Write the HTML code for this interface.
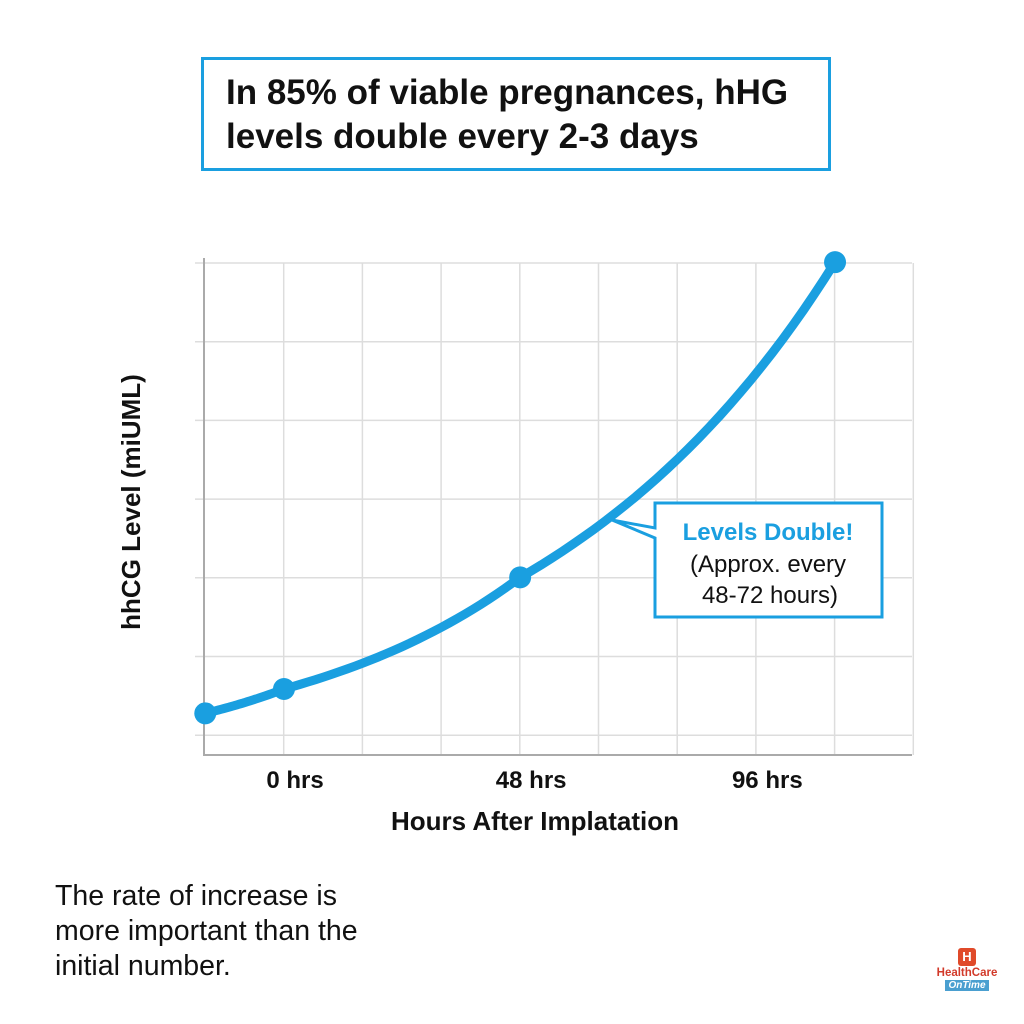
<!DOCTYPE html>
<html><head><meta charset="utf-8"><style>
body{margin:0;width:1024px;height:1024px;background:#fff;font-family:"Liberation Sans",sans-serif;overflow:hidden;position:relative}
.t{position:absolute}
</style></head><body>
<div class="t" style="left:201px;top:57px;width:624px;height:108px;border:3px solid #1a9fe0;"></div>
<div class="t" style="left:226px;top:71px;font-size:35px;font-weight:bold;color:#111;line-height:44px;white-space:nowrap">In 85% of viable pregnances, hHG<br>levels double every 2-3 days</div>
<svg class="t" style="left:0;top:0" width="1024" height="1024">
<g id="grid"></g><g id="axes"></g><path id="curve" fill="none" stroke="#1a9fe0" stroke-width="9" stroke-linecap="round"/><g id="pts"></g>
<g>
<path d="M655,503 H882 V617 H655 V538 L612,520 L655,528 Z" fill="#fff" stroke="#1a9fe0" stroke-width="3"/>
<text x="768" y="540" text-anchor="middle" font-size="24" font-weight="bold" fill="#1a9fe0" font-family="Liberation Sans">Levels Double!</text>
<text x="768" y="572" text-anchor="middle" font-size="24" fill="#111" font-family="Liberation Sans">(Approx. every</text>
<text x="770" y="603" text-anchor="middle" font-size="24" fill="#111" font-family="Liberation Sans">48-72 hours)</text>
</g>
<text x="140" y="502" transform="rotate(-90 140 502)" text-anchor="middle" font-size="26" font-weight="bold" fill="#111" font-family="Liberation Sans">hhCG Level (miUML)</text>
<text x="535" y="830" text-anchor="middle" font-size="26" font-weight="bold" fill="#111" font-family="Liberation Sans">Hours After Implatation</text>
<g id="xt"></g>
</svg>
<div class="t" style="left:55px;top:879px;font-size:28.5px;line-height:35px;color:#111;white-space:nowrap">The rate of increase is<br>more important than the<br>initial number.</div>
<div class="t" style="left:934px;top:948px;width:66px;text-align:center;">
<div style="margin:0 auto;width:18px;height:18px;background:#e04a2a;border-radius:3px;color:#fff;font-size:13px;font-weight:bold;line-height:18px">H</div>
<div style="font-size:11.5px;font-weight:bold;color:#d23a2a;line-height:14px">HealthCare</div>
<div style="margin:0 auto;width:44px;font-size:10px;font-style:italic;font-weight:bold;color:#fff;background:#4a9fd0;line-height:11px">OnTime</div>
</div>
<script>
const hours=[-16,0,48,112];
const levels=[0.53,0.84,2.26,6.27];
const tickHours=[0,48,96];
const tickLabels=["0 hrs","48 hrs","96 hrs"];
const NS="http://www.w3.org/2000/svg";
const X=h=>284+h*4.92, Y=v=>755-v*78.6;
function mk(t,a,p){const e=document.createElementNS(NS,t);for(const k in a)e.setAttribute(k,a[k]);p.appendChild(e);return e;}
const g=document.getElementById('grid');
for(let i=1;i<=9;i++){const x=205+i*78.7;const l=mk('line',{x1:x,y1:263,x2:x,y2:755,stroke:'#ddd','stroke-width':1.5},g);

}
for(let i=0;i<7;i++){const y=263+i*78.7;const l=mk('line',{x1:195,y1:y,x2:912,y2:y,stroke:'#ddd','stroke-width':1.5},g);

}
const a=document.getElementById('axes');
const ax=mk('path',{d:'M204,258 V755 H912',fill:'none',stroke:'#aaa','stroke-width':2},a);


// piecewise exponential interpolation between data points
let d='';
for(let i=0;i<hours.length-1;i++){
  const h0=hours[i],h1=hours[i+1],l0=Math.log(levels[i]),l1=Math.log(levels[i+1]);
  for(let s=0;s<=30;s++){const f=s/30,h=h0+(h1-h0)*f,v=Math.exp(l0+(l1-l0)*f);
    d+=(d?' L':'M')+X(h).toFixed(1)+','+Y(v).toFixed(1);}
}
document.getElementById('curve').setAttribute('d',d);
const pg=document.getElementById('pts');
hours.forEach((h,i)=>{const c=mk('circle',{cx:X(h),cy:Y(levels[i]),r:11,fill:'#1a9fe0'},pg);

});
const xt=document.getElementById('xt');
tickHours.forEach((h,i)=>{const t=mk('text',{x:X(h)+11,y:788,'text-anchor':'middle','font-size':24,'font-weight':'bold',fill:'#111','font-family':'Liberation Sans'},xt);t.textContent=tickLabels[i];

});
</script>
</body></html>
